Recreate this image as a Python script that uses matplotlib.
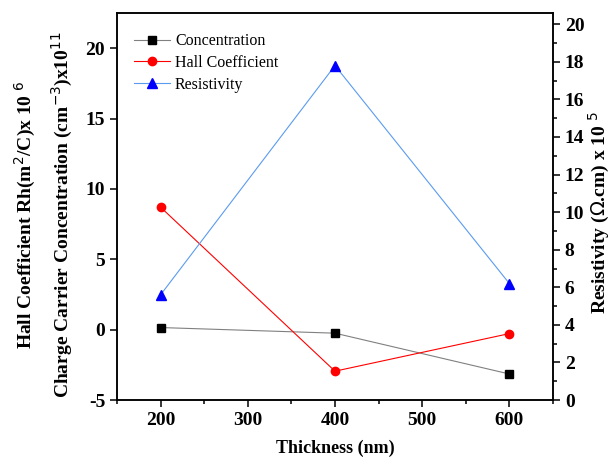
import matplotlib.pyplot as plt
from matplotlib.ticker import MultipleLocator

# datos
thickness = [200, 400, 600]
concentration = [0.15, -0.25, -3.15]
hall_coef = [8.7, -2.95, -0.28]
resistivity = [5.6, 17.8, 6.2]

plt.rcParams['font.family'] = 'Liberation Serif'
plt.rcParams['axes.linewidth'] = 1.1
plt.rcParams['axes.unicode_minus'] = False

fig = plt.figure(figsize=(6.11, 4.63), dpi=100)
ax = fig.add_axes([0.1915, 0.136, 0.7135, 0.836])
ax2 = ax.twinx()

l1, = ax.plot(thickness, concentration, color='#808080', lw=0.8,
              marker='s', mfc='black', mec='black', ms=5.5, label='Concentration')
l2, = ax.plot(thickness, hall_coef, color='red', lw=0.8,
              marker='o', mfc='red', mec='red', ms=6, label='Hall Coefficient')
l3, = ax2.plot(thickness, resistivity, color='#5b9bf0', lw=0.8,
               marker='^', mfc='blue', mec='blue', ms=7, label='Resistivity')

ax.set_xlim(150, 650)
ax.set_ylim(-5, 22.5)
ax2.set_ylim(0, 20.6)

ax.xaxis.set_major_locator(MultipleLocator(100))
ax.xaxis.set_minor_locator(MultipleLocator(50))
ax.yaxis.set_major_locator(MultipleLocator(5))
ax2.yaxis.set_major_locator(MultipleLocator(2))
ax2.yaxis.set_minor_locator(MultipleLocator(1))

ax.tick_params(axis='both', which='major', direction='out', length=5, width=1.1,
               labelsize=14, top=False)
ax.tick_params(axis='x', which='minor', direction='out', length=3, width=1.1)
ax2.tick_params(axis='y', which='major', direction='out', length=5, width=1.1, labelsize=14)
ax2.tick_params(axis='y', which='minor', direction='out', length=3, width=1.1)
for lab in ax.get_xticklabels() + ax.get_yticklabels() + ax2.get_yticklabels():
    lab.set_fontweight('bold')

ax.set_xlabel('Thickness (nm)', fontsize=13, fontweight='bold', labelpad=8)
ax2.set_ylabel('Resistivity ($\\Omega$.cm) x 10 $^5$', fontsize=14, fontweight='bold')
ax2.yaxis.set_label_coords(1.078, 0.483)

fig.text(0.041, 0.536, 'Hall Coefficient Rh(m$^2$/C)x 10 $^6$', rotation=90,
         ha='center', va='center', fontsize=14, fontweight='bold')
fig.text(0.103, 0.536, 'Charge Carrier Concentration (cm$^{-3}$)x10$^{11}$', rotation=90,
         ha='center', va='center', fontsize=14, fontweight='bold')

ax.legend(handles=[l1, l2, l3], loc='upper left', bbox_to_anchor=(0.005, 0.985),
          frameon=False, fontsize=11.5, handlelength=2.3, handletextpad=0.3,
          labelspacing=0.36)

plt.savefig('out.png', dpi=100)
